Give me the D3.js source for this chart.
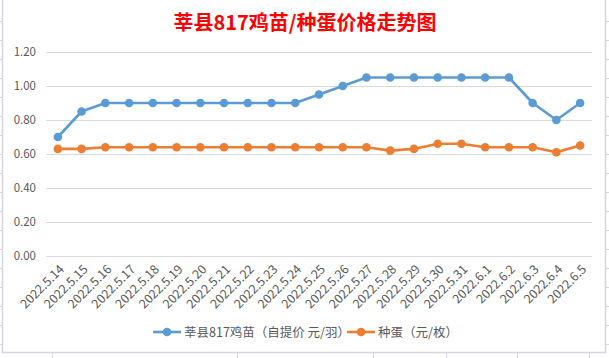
<!DOCTYPE html>
<html><head><meta charset="utf-8">
<script src="https://cdn.jsdelivr.net/npm/d3@7"></script>
<style>body{margin:0;background:#fff;}svg{display:block;}</style>
</head><body>
<svg id="c" width="609" height="358"></svg>
<script>
const categories = ["2022.5.14","2022.5.15","2022.5.16","2022.5.17","2022.5.18","2022.5.19","2022.5.20","2022.5.21","2022.5.22","2022.5.23","2022.5.24","2022.5.25","2022.5.26","2022.5.27","2022.5.28","2022.5.29","2022.5.30","2022.5.31","2022.6.1","2022.6.2","2022.6.3","2022.6.4","2022.6.5"];
const chickPrice = [0.70,0.85,0.90,0.90,0.90,0.90,0.90,0.90,0.90,0.90,0.90,0.95,1.00,1.05,1.05,1.05,1.05,1.05,1.05,1.05,0.90,0.80,0.90];
const eggPrice = [0.63,0.63,0.64,0.64,0.64,0.64,0.64,0.64,0.64,0.64,0.64,0.64,0.64,0.64,0.62,0.63,0.66,0.66,0.64,0.64,0.64,0.61,0.65];
const yTicks = [0,0.2,0.4,0.6,0.8,1.0,1.2];
const seriesNames = ["莘县817鸡苗（自提价 元/羽）","种蛋（元/枚）"];
const colors = ["#5b9bd5","#ed7d31"];
const title = "莘县817鸡苗/种蛋价格走势图";

const svg = d3.select("#c");
const font = "'Noto Sans CJK SC','Noto Sans',sans-serif";
const frameColor = "#d5d5df";

// sheet-like frame
svg.append("rect").attr("x",2.5).attr("y",-1).attr("width",603).attr("height",353.5)
  .attr("fill","#fff").attr("stroke",frameColor).attr("stroke-width",1.5);
const rows = d3.range(18).map(k=>21+19*k);
rows.forEach(y=>{
  svg.append("line").attr("x1",0).attr("x2",2).attr("y1",y+0.5).attr("y2",y+0.5).attr("stroke",frameColor);
  svg.append("line").attr("x1",606).attr("x2",609).attr("y1",y+0.5).attr("y2",y+0.5).attr("stroke",frameColor);
});
[52,237,373,446,517,589].forEach(x=>{
  svg.append("line").attr("x1",x+0.5).attr("x2",x+0.5).attr("y1",353).attr("y2",358).attr("stroke",frameColor);
});

const x = d3.scaleBand().domain(categories).range([46,592]);
const y = d3.scaleLinear().domain([0,1.2]).range([256,52]);

// gridlines
const g = svg.append("g");
g.selectAll("line.grid").data(yTicks).enter().append("line")
  .attr("x1",46).attr("x2",592)
  .attr("y1",d=>Math.round(y(d))+0.5).attr("y2",d=>Math.round(y(d))+0.5)
  .attr("stroke","#d9d9d9").attr("stroke-width",1);

// y axis labels
const yAxis = d3.axisLeft(y).tickValues(yTicks).tickFormat(d3.format(".2f")).tickSize(0).tickPadding(10);
const ya = svg.append("g").attr("transform","translate(46,0)").call(yAxis);
ya.select(".domain").remove();
ya.selectAll("text").attr("fill","#595959").style("font-family",font).style("font-size","11.5px");

// x axis labels
const xAxis = d3.axisBottom(x).tickSize(0).tickPadding(0);
const xa = svg.append("g").attr("transform","translate(0,256)").call(xAxis);
xa.select(".domain").remove();
xa.selectAll("text")
  .attr("fill","#595959").style("font-family",font).style("font-size","12.5px")
  .attr("text-anchor","end").attr("dy",null).attr("y",0)
  .attr("transform","translate(7,14) rotate(-45)");

// lines
const line = d3.line().x((d,i)=>x(categories[i])+x.bandwidth()/2).y(d=>y(d));
[chickPrice,eggPrice].forEach((s,k)=>{
  svg.append("path").datum(s).attr("d",line).attr("fill","none")
    .attr("stroke",colors[k]).attr("stroke-width",2.6).attr("stroke-linejoin","round");
  svg.selectAll(null).data(s).enter().append("circle")
    .attr("cx",(d,i)=>x(categories[i])+x.bandwidth()/2).attr("cy",d=>y(d))
    .attr("r",4.3).attr("fill",colors[k]);
});

// title
svg.append("text").attr("x",305).attr("y",30).attr("text-anchor","middle")
  .attr("fill","#ff0000").style("font-family",font).style("font-weight","bold").style("font-size","20px")
  .text(title);

// legend
const legendX = [153,347];
seriesNames.forEach((n,k)=>{
  const lg = svg.append("g").attr("transform",`translate(${legendX[k]},332)`);
  lg.append("line").attr("x1",0).attr("x2",28).attr("y1",0).attr("y2",0).attr("stroke",colors[k]).attr("stroke-width",2.6);
  lg.append("circle").attr("cx",14).attr("cy",0).attr("r",4.3).attr("fill",colors[k]);
  lg.append("text").attr("x",31).attr("y",4.5).attr("fill","#595959").style("font-family",font).style("font-size","12.5px").text(n);
});
</script>
</body></html>
